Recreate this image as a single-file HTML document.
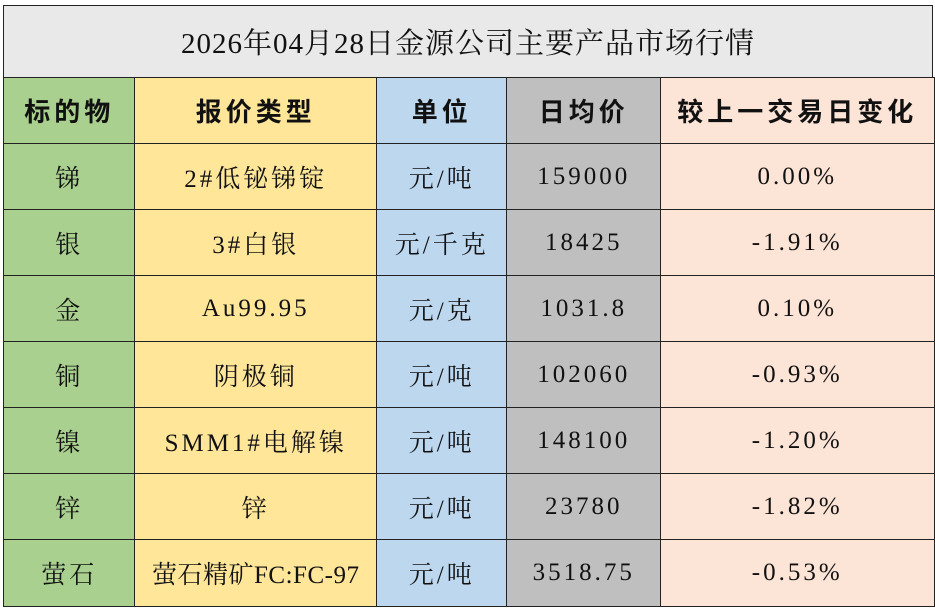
<!DOCTYPE html>
<html><head><meta charset="utf-8"><style>
body{margin:0;width:935px;height:609px;background:#fff;overflow:hidden;position:relative;font-family:"Liberation Serif","Noto Serif CJK SC",serif;color:#111}
.c{position:absolute;box-sizing:border-box;display:flex;align-items:center;justify-content:center;border:1.5px solid #222;font-size:25px;letter-spacing:3px;white-space:nowrap}
.h{font-weight:bold;font-family:"Liberation Serif","Noto Sans CJK SC",sans-serif;font-size:26px;letter-spacing:4px}
</style></head><body>
<div class="c" style="left:3px;top:5px;width:930px;height:73px;background:#e9e9ea;font-size:29px;letter-spacing:1px">2026年04月28日金源公司主要产品市场行情</div>
<div id="t"></div>
<script>
var cols=[3,134,376,506,660,933];
var bg=["#a9d08e","#ffe699","#bdd7ee","#bfbfbf","#fce4d6"];
var rows=[["标的物","报价类型","单位","日均价","较上一交易日变化"],
["锑","2#低铋锑锭","元/吨","159000","0.00%"],
["银","3#白银","元/千克","18425","-1.91%"],
["金","Au99.95","元/克","1031.8","0.10%"],
["铜","阴极铜","元/吨","102060","-0.93%"],
["镍","SMM1#电解镍","元/吨","148100","-1.20%"],
["锌","锌","元/吨","23780","-1.82%"],
["萤石","萤石精矿FC:FC-97","元/吨","3518.75","-0.53%"]];
var h="";
for(var r=0;r<rows.length;r++){var y=77+r*66;
for(var c=0;c<5;c++){var ls=(r==7&&c==1)?"letter-spacing:0.5px;":"";
h+='<div class="c'+(r==0?' h':'')+'" style="'+ls+'left:'+cols[c]+'px;top:'+y+'px;width:'+(cols[c+1]-cols[c]+1.5)+'px;height:67.5px;background:'+bg[c]+'">'+rows[r][c]+'</div>';}}
document.getElementById("t").innerHTML=h;
</script>
</body></html>
